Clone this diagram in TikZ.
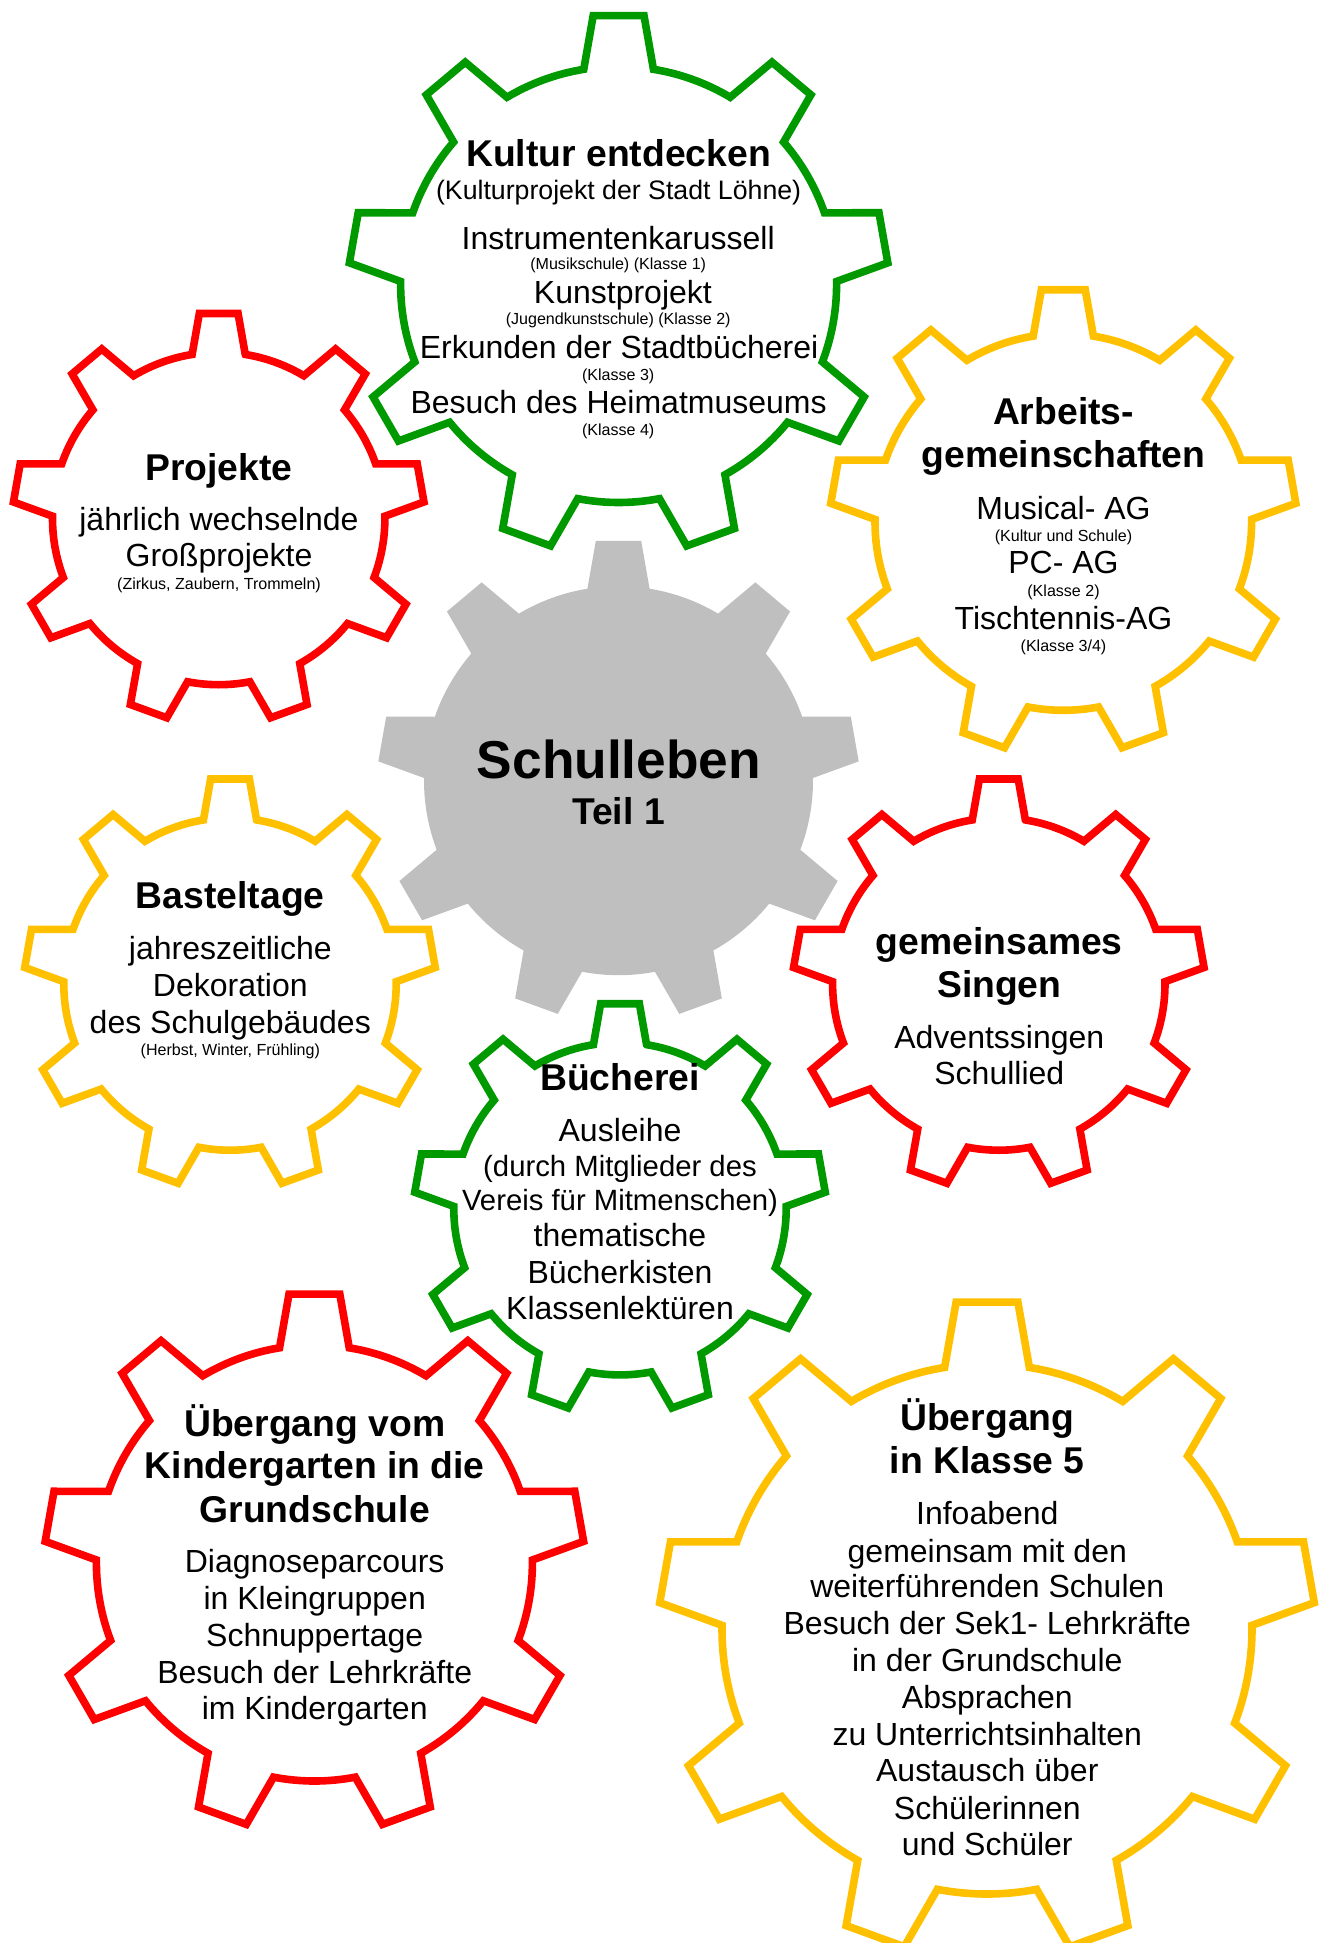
\documentclass[tikz,border=0pt]{standalone}
\usepackage{fontspec}
\setmainfont{Liberation Sans}
\definecolor{gearred}{HTML}{FF0000}
\definecolor{gearyellow}{HTML}{FFC000}
\definecolor{geargreen}{HTML}{009900}
\definecolor{geargrey}{HTML}{BFBFBF}
\newcommand\drawgear[4]{%
  \begin{scope}[shift={(#2,#3)},x=1bp,y=1bp]
    \draw[#1] (80.8:#4)
      \foreach \a in {90,130,...,410}{
        -- ({\a-5.4}:{1.239*#4}) -- ({\a+5.4}:{1.239*#4}) -- ({\a+9.2}:#4)
        arc[start angle={\a+9.2},end angle={\a+30.8},radius=#4]
      } -- cycle;
  \end{scope}}
\tikzset{
  gearline/.style={line width=7.6bp,line join=miter,draw=#1},
  gearfill/.style={fill=geargrey,draw=none},
  txt/.style={anchor=base,inner sep=0pt,outer sep=0pt,text=black},
  hugetitle/.style={txt,font=\fontsize{53.3bp}{60bp}\selectfont\bfseries},
  subtitle/.style={txt,font=\fontsize{37.3bp}{42bp}\selectfont\bfseries},
  title/.style={txt,yshift=-0.6bp,font=\fontsize{37.3bp}{42bp}\selectfont\bfseries},
  body/.style={txt,yshift=-0.8bp,font=\fontsize{32bp}{36bp}\selectfont},
  midbody/.style={txt,yshift=-0.8bp,font=\fontsize{29.3bp}{33bp}\selectfont},
  lead/.style={txt,font=\fontsize{26.7bp}{30bp}\selectfont},
  tiny/.style={txt,font=\fontsize{16.05bp}{18bp}\selectfont},
}
\begin{document}
\begin{tikzpicture}[x=1bp,y=-1bp]
\useasboundingbox (0,0) rectangle (1320,1943);
% gears
\drawgear{gearfill}{618.5}{780.7}{194.5}
\drawgear{gearline=geargreen}{618.6}{284.5}{218}
\drawgear{gearline=gearred}{218.7}{518.5}{166.2}
\drawgear{gearline=gearyellow}{1063.3}{522}{188.3}
\drawgear{gearline=gearyellow}{230}{984}{166.2}
\drawgear{gearline=gearred}{998.8}{984}{166.2}
\drawgear{gearline=geargreen}{620}{1208.7}{166.2}
\drawgear{gearline=gearred}{314.4}{1563}{218}
\drawgear{gearline=gearyellow}{987}{1629}{265}
% centre
\node[hugetitle] (s1) at (619,778.7) {Schulleben};
\node[subtitle] (s2) at (618.5,824.3) {Teil 1};
% Kultur entdecken
\node[title] (k1) at (618.6,166) {Kultur entdecken};
\node[lead] (k2) at (618.6,199.3) {(Kulturprojekt der Stadt Löhne)};
\node[body] (k3) at (618.2,248.2) {Instrumentenkarussell};
\node[tiny] (k4) at (618.2,269.6) {(Musikschule) (Klasse 1)};
\node[body] (k5) at (622.9,302.9) {Kunstprojekt};
\node[tiny] (k6) at (618.2,324.3) {(Jugendkunstschule) (Klasse 2)};
\node[body] (k7) at (619,357.9) {Erkunden der Stadtbücherei};
\node[tiny] (k8) at (618.2,380.4) {(Klasse 3)};
\node[body] (k9) at (618.6,412.5) {Besuch des Heimatmuseums};
\node[tiny] (k10) at (618.2,435) {(Klasse 4)};
% Projekte
\node[title] (p1) at (219,480) {Projekte};
\node[body] (p2) at (219,530) {jährlich wechselnde};
\node[body] (p3) at (219,566) {Großprojekte};
\node[tiny] (p4) at (219,589.3) {(Zirkus, Zaubern, Trommeln)};
% Arbeitsgemeinschaften
\node[title] (a1) at (1063.5,424.3) {Arbeits-};
\node[title] (a2) at (1063.5,467.3) {gemeinschaften};
\node[body] (a3) at (1063.5,518.3) {Musical- AG};
\node[tiny] (a4) at (1063.5,541) {(Kultur und Schule)};
\node[body] (a5) at (1063.5,573) {PC- AG};
\node[tiny] (a6) at (1063.5,596) {(Klasse 2)};
\node[body] (a7) at (1063.5,628.3) {Tischtennis-AG};
\node[tiny] (a8) at (1063.5,651) {(Klasse 3/4)};
% Basteltage
\node[title] (b1) at (230.3,907.7) {Basteltage};
\node[body] (b2) at (230.3,959) {jahreszeitliche};
\node[body] (b3) at (230.3,995.7) {Dekoration};
\node[body] (b4) at (230.3,1032.3) {des Schulgebäudes};
\node[tiny] (b5) at (230.3,1055) {(Herbst, Winter, Frühling)};
% Singen
\node[title] (g1) at (999.3,954) {gemeinsames};
\node[title] (g2) at (999.3,997.3) {Singen};
\node[body] (g3) at (999.3,1047.3) {Adventssingen};
\node[body] (g4) at (999.3,1084) {Schullied};
% Bücherei
\node[title] (u1) at (620,1090) {Bücherei};
\node[body] (u2) at (620,1140.7) {Ausleihe};
\node[midbody] (u3) at (620,1175.3) {(durch Mitglieder des};
\node[midbody] (u4) at (620,1209.3) {Vereis für Mitmenschen)};
\node[body] (u5) at (620,1245.3) {thematische};
\node[body] (u6) at (620,1282.3) {Bücherkisten};
\node[body] (u7) at (620,1319) {Klassenlektüren};
% Kindergarten
\node[title] (v1) at (314.7,1435.6) {Übergang vom};
\node[title] (v2) at (314.7,1478.2) {Kindergarten in die};
\node[title] (v3) at (314.7,1521.5) {Grundschule};
\node[body] (v4) at (314.7,1571.6) {Diagnoseparcours};
\node[body] (v5) at (314.7,1608.7) {in Kleingruppen};
\node[body] (v6) at (314.7,1645.5) {Schnuppertage};
\node[body] (v7) at (314.7,1682.2) {Besuch der Lehrkräfte};
\node[body] (v8) at (314.7,1719) {im Kindergarten};
% Klasse 5
\node[title] (f1) at (987.3,1429.6) {Übergang};
\node[title] (f2) at (987.3,1472.5) {in Klasse 5};
\node[body] (f3) at (987.3,1524) {Infoabend};
\node[body] (f4) at (987.3,1561.3) {gemeinsam mit den};
\node[body] (f5) at (987.3,1597) {weiterführenden Schulen};
\node[body] (f6) at (987.3,1633.8) {Besuch der Sek1- Lehrkräfte};
\node[body] (f7) at (987.3,1670.8) {in der Grundschule};
\node[body] (f8) at (987.3,1707.9) {Absprachen};
\node[body] (f9) at (987.3,1744.6) {zu Unterrichtsinhalten};
\node[body] (f10) at (987.3,1781) {Austausch über};
\node[body] (f11) at (987.3,1818.3) {Schülerinnen};
\node[body] (f12) at (987.3,1855) {und Schüler};
\end{tikzpicture}
\end{document}
